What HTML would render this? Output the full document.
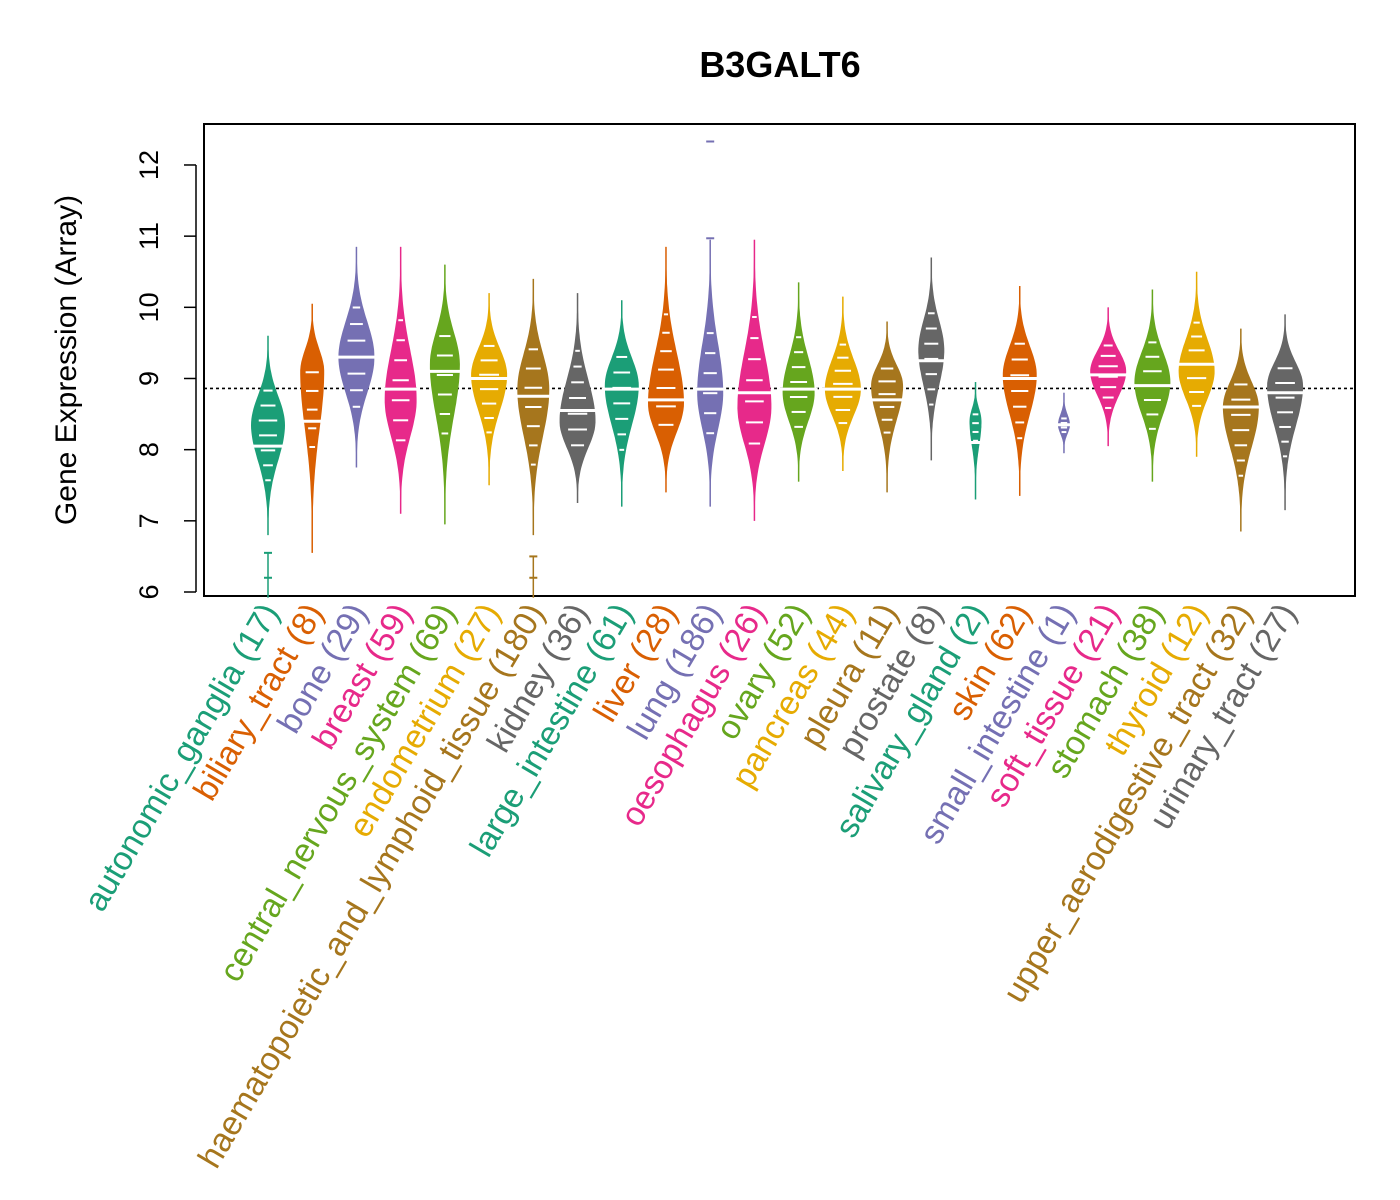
<!DOCTYPE html>
<html><head><meta charset="utf-8"><style>
html,body{margin:0;padding:0;background:#fff;}
svg{display:block;font-family:"Liberation Sans",Arial,sans-serif;}
</style></head><body>
<svg id="chart" width="1400" height="1200">
<text x="780" y="77" text-anchor="middle" font-size="36" font-weight="bold">B3GALT6</text>
<rect x="204" y="124" width="1151" height="472" fill="none" stroke="#000" stroke-width="2"/>
<text transform="translate(76,360) rotate(-90)" text-anchor="middle" font-size="30">Gene Expression (Array)</text>
<g id="yaxis"></g>
<g id="marks"></g>
<g id="labels"></g>
</svg>
<script>
const categories=["autonomic_ganglia","biliary_tract","bone","breast","central_nervous_system","endometrium","haematopoietic_and_lymphoid_tissue","kidney","large_intestine","liver","lung","oesophagus","ovary","pancreas","pleura","prostate","salivary_gland","skin","small_intestine","soft_tissue","stomach","thyroid","upper_aerodigestive_tract","urinary_tract"];
const counts=[17,8,29,59,69,27,180,36,61,28,186,26,52,44,11,8,2,62,1,21,38,12,32,27];
const mins=[6.8,6.55,7.75,7.1,6.95,7.5,6.8,7.25,7.2,7.4,7.2,7.0,7.55,7.7,7.4,7.85,7.3,7.35,7.95,8.05,7.55,7.9,6.85,7.15];
const maxs=[9.6,10.05,10.85,10.85,10.6,10.2,10.4,10.2,10.1,10.85,10.95,10.95,10.35,10.15,9.8,10.7,8.95,10.3,8.8,10.0,10.25,10.5,9.7,9.9];
const medians=[8.05,8.4,9.3,8.85,9.1,9.0,8.75,8.55,8.85,8.7,8.85,8.8,8.85,8.85,8.7,9.25,8.1,9.0,8.35,9.05,8.9,9.2,8.6,8.8];
const peaks=[8.35,9.1,9.3,8.7,9.2,9.05,8.85,8.4,8.9,8.65,8.8,8.6,8.8,8.85,8.9,9.4,8.4,9.05,8.35,9.1,8.95,9.1,8.6,8.9];
const widths=[17,12,18,16,15,18,16,18,17,18,13,17,16,18,16,13,6,17,6,18,18,18,18,18];
const outliers=[[6.2,6.55],[],[],[],[],[],[6.2,6.5],[],[],[],[12.33,10.97],[],[],[],[],[],[],[],[],[],[],[],[],[]];
const yTicks=[6,7,8,9,10,11,12];
const refLine=8.86;
const colors=["#1B9E77","#D95F02","#7570B3","#E7298A","#66A61E","#E6AB02","#A6761D","#666666"];
const NS="http://www.w3.org/2000/svg";
function yS(v){return 592-(v-6)*71.17;}
function xS(i){return 268+i*44.22;}
function mk(t,a,p){const e=document.createElementNS(NS,t);for(const k in a)e.setAttribute(k,a[k]);p.appendChild(e);return e;}
const ya=document.getElementById('yaxis');
mk('line',{x1:196,x2:196,y1:yS(6),y2:yS(12),stroke:'#000','stroke-width':1.5},ya);
yTicks.forEach(t=>{
  const l=mk('line',{x1:184,x2:196,y1:yS(t),y2:yS(t),stroke:'#000','stroke-width':1.5},ya);
  
  
  const tx=mk('text',{transform:`translate(158,${yS(t)}) rotate(-90)`,'text-anchor':'middle','font-size':27},ya);
  tx.textContent=t;
  
  
});
const mg=document.getElementById('marks');
const rl=mk('line',{x1:204,x2:1355,y1:yS(refLine),y2:yS(refLine),stroke:'#000','stroke-width':1.6,'stroke-dasharray':'3,3'},mg);


const lg=document.getElementById('labels');
categories.forEach((c,i)=>{
  const col=colors[i%8],cx=xS(i),lo=mins[i],hi=maxs[i],pk=peaks[i],W=widths[i];
  const g=mk('g',{},mg);
  
  
  mk('line',{x1:cx,x2:cx,y1:yS(hi),y2:yS(lo),stroke:col,'stroke-width':1.5},g);
  const sU=(hi-pk)/2.2,sD=(pk-lo)/2.2;
  let R=[],L=[];const N=60;
  for(let k=0;k<=N;k++){const v=lo+(hi-lo)*k/N;const s=v>pk?sU:sD;const w=W*Math.exp(-Math.pow((v-pk)/s,2));R.push([cx+w,yS(v)]);L.push([cx-w,yS(v)]);}
  const pts=R.concat(L.reverse()).map(p=>p[0].toFixed(1)+','+p[1].toFixed(1)).join(' ');
  mk('polygon',{points:pts,fill:col},g);
  for(let k=1;k<8;k++){const v=lo+(hi-lo)*(0.2+0.6*k/8);const s=v>pk?sU:sD;const w=W*Math.exp(-Math.pow((v-pk)/s,2))*0.55;
    if(w>2)mk('line',{x1:cx-w,x2:cx+w,y1:yS(v),y2:yS(v),stroke:'#fff','stroke-width':2},g);}
  const md=mk('line',{x1:cx-W-3,x2:cx+W+3,y1:yS(medians[i]),y2:yS(medians[i]),stroke:'#fff','stroke-width':3},g);
  
  
  outliers[i].forEach(o=>{mk('line',{x1:cx-4,x2:cx+4,y1:yS(o),y2:yS(o),stroke:col,'stroke-width':2},g);});
  if(outliers[i].length&&outliers[i][0]<lo){mk('line',{x1:cx,x2:cx,y1:yS(Math.max(...outliers[i])),y2:yS(5.92),stroke:col,'stroke-width':1.5},g);}
  const t=mk('text',{transform:`translate(${cx+12},612) rotate(-59.5)`,'text-anchor':'end','font-size':33.5,fill:col},lg);
  t.textContent=c+' ('+counts[i]+')';
  
  
});
</script>
</body></html>
